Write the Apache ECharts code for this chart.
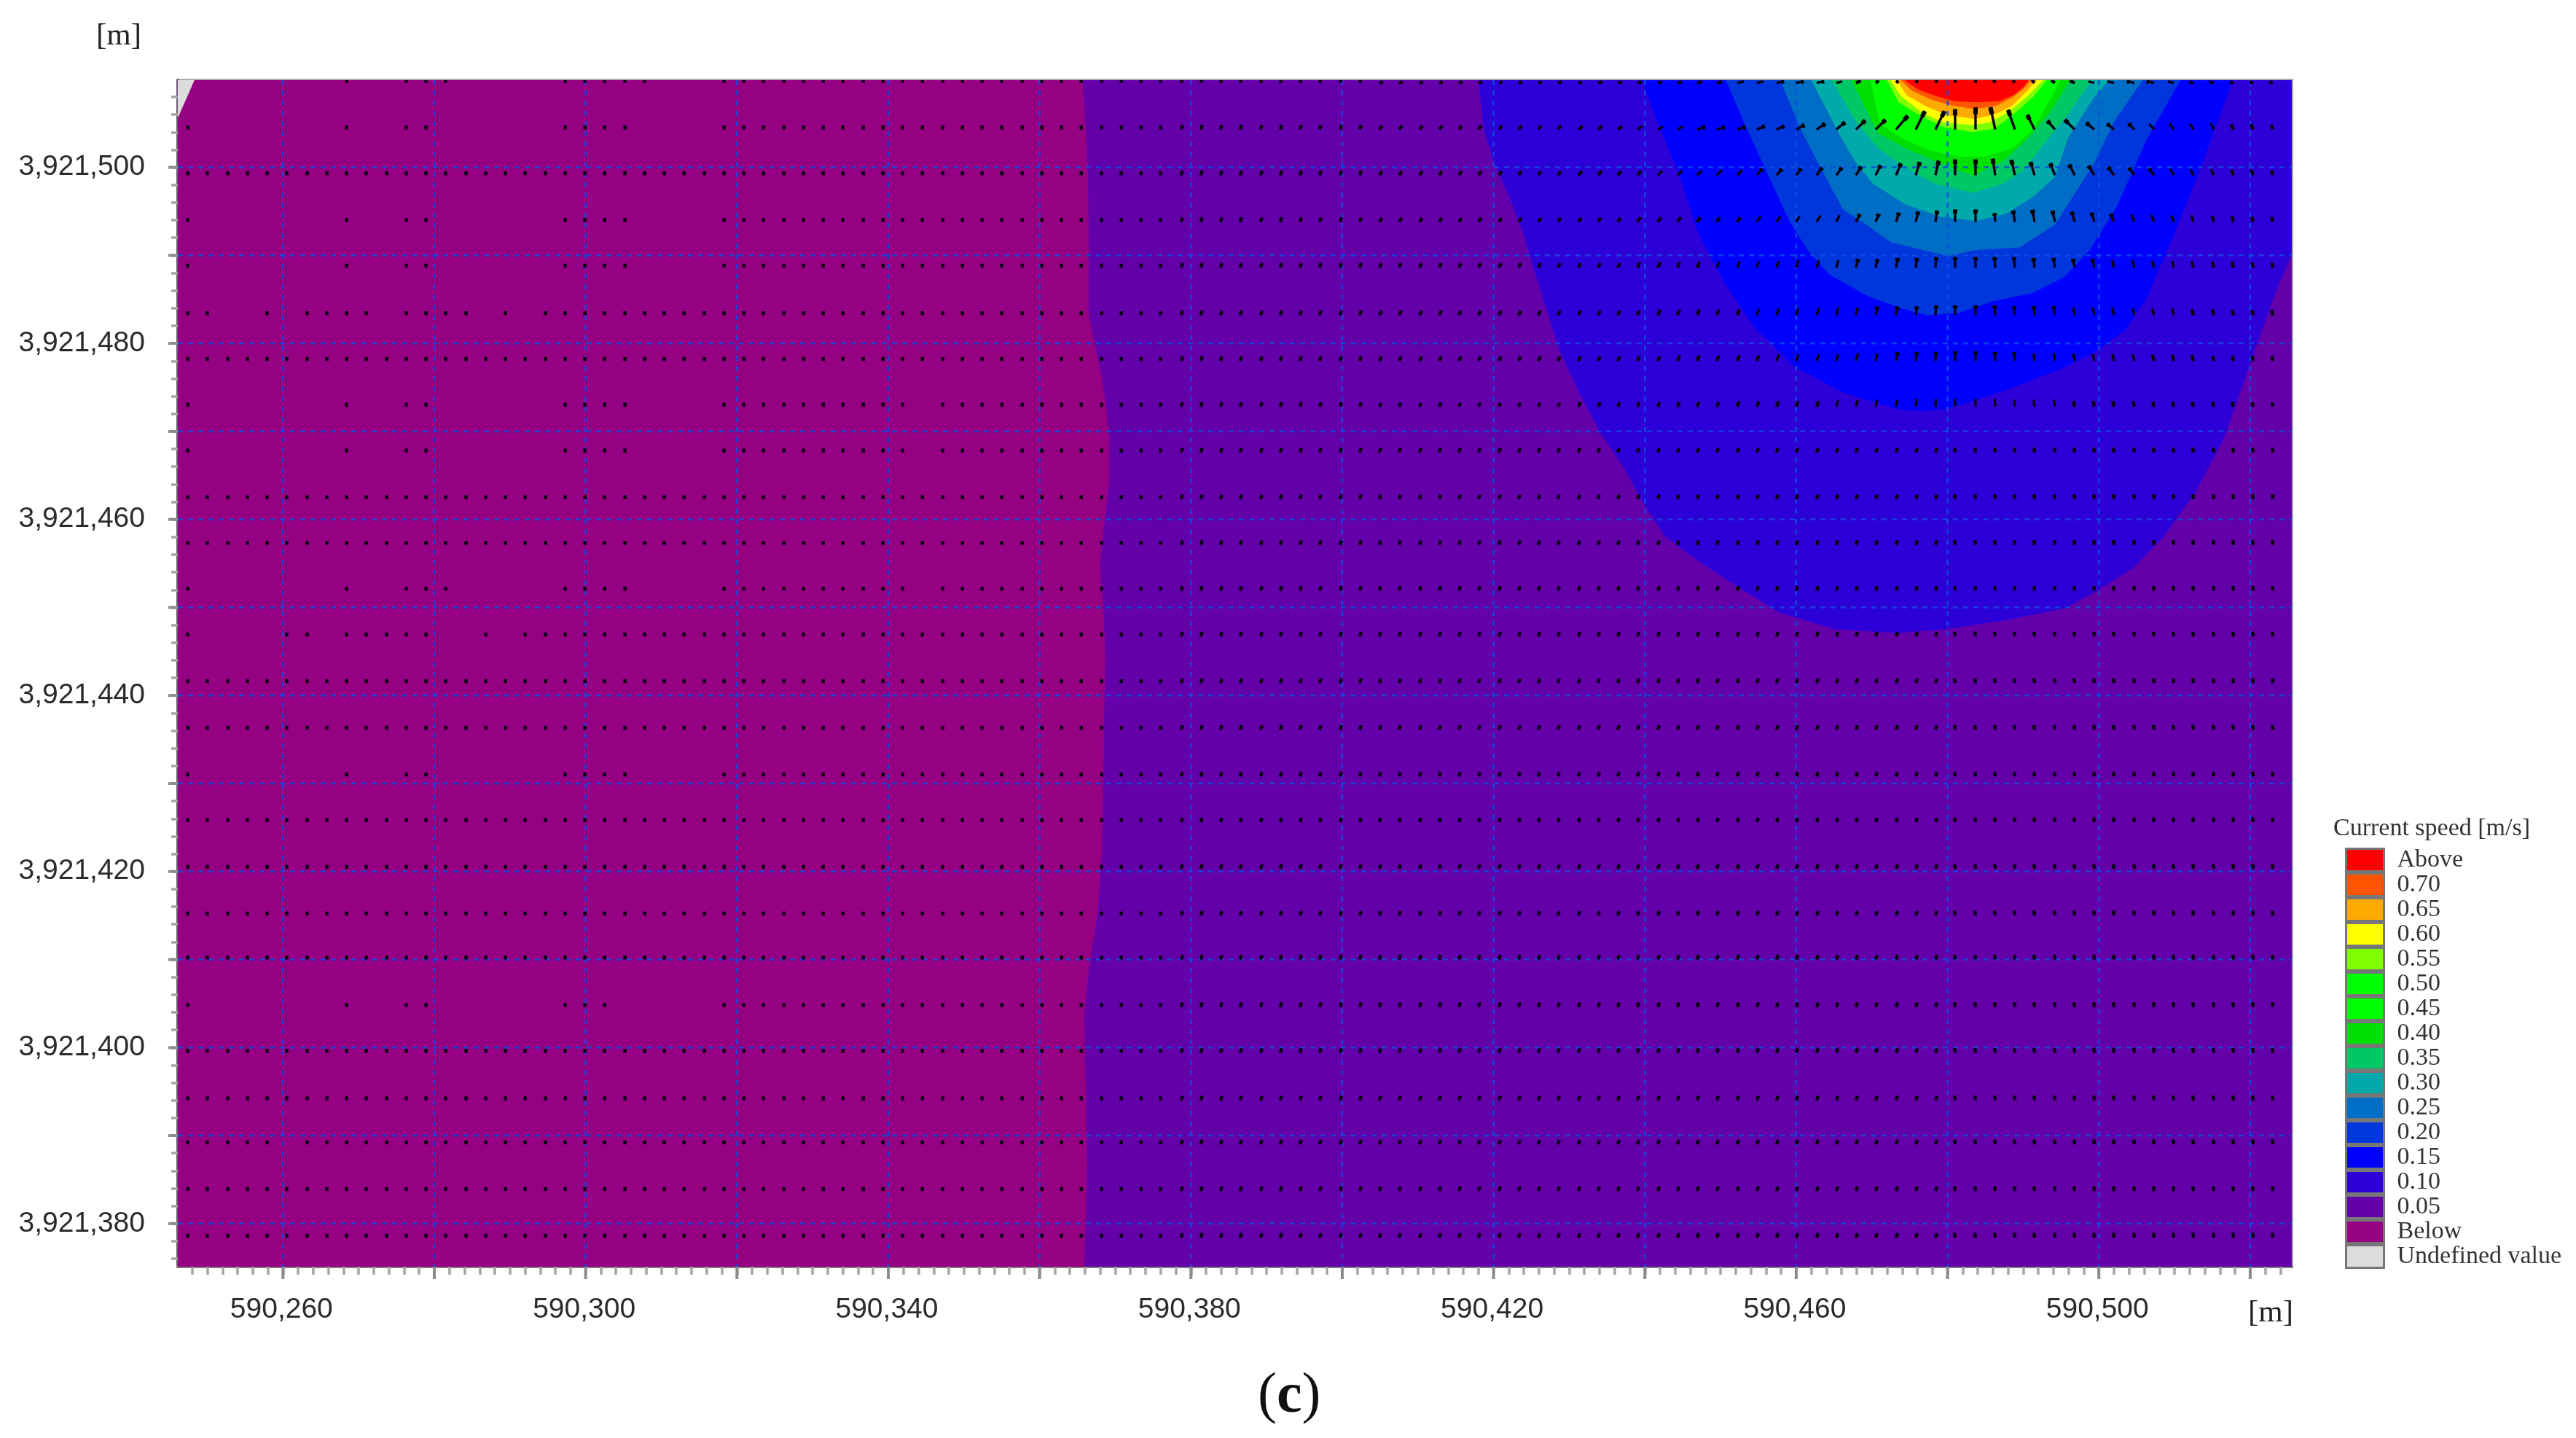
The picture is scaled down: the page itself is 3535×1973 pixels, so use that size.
<!DOCTYPE html>
<html lang="en">
<head>
    <meta charset="UTF-8">
    <title>Current speed map</title>
    <script src="https://cdn.jsdelivr.net/npm/echarts@6/dist/echarts.min.js"></script>
    <style>
        html, body { margin: 0; padding: 0; background: #fff; }
        #main { width: 3535px; height: 1973px; }
    </style>
</head>
<body>
    <div id="main"></div>
    <script>
        // map origin, all positions below are metres from here
        var EAST0 = 590000;
        var NORTH0 = 3921000;
        var eastMin = 246.1, eastMax = 525.5;
        var northMin = 375.1, northMax = 509.9;

        var xLabelValues = [260, 300, 340, 380, 420, 460, 500];
        var yLabelValues = [380, 400, 420, 440, 460, 480, 500];
        var xGridValues = [260, 280, 300, 320, 340, 360, 380, 400, 420, 440, 460, 480, 500, 520];
        var yGridValues = [380, 390, 400, 410, 420, 430, 440, 450, 460, 470, 480, 490, 500];
        var xMinorTicks = [248, 250, 252, 254, 256, 258, 260, 262, 264, 266, 268, 270, 272, 274, 276, 278, 280, 282, 284, 286, 288, 290, 292, 294, 296, 298, 300, 302, 304, 306, 308, 310, 312, 314, 316, 318, 320, 322, 324, 326, 328, 330, 332, 334, 336, 338, 340, 342, 344, 346, 348, 350, 352, 354, 356, 358, 360, 362, 364, 366, 368, 370, 372, 374, 376, 378, 380, 382, 384, 386, 388, 390, 392, 394, 396, 398, 400, 402, 404, 406, 408, 410, 412, 414, 416, 418, 420, 422, 424, 426, 428, 430, 432, 434, 436, 438, 440, 442, 444, 446, 448, 450, 452, 454, 456, 458, 460, 462, 464, 466, 468, 470, 472, 474, 476, 478, 480, 482, 484, 486, 488, 490, 492, 494, 496, 498, 500, 502, 504, 506, 508, 510, 512, 514, 516, 518, 520, 522, 524];
        var yMinorTicks = [376, 378, 380, 382, 384, 386, 388, 390, 392, 394, 396, 398, 400, 402, 404, 406, 408, 410, 412, 414, 416, 418, 420, 422, 424, 426, 428, 430, 432, 434, 436, 438, 440, 442, 444, 446, 448, 450, 452, 454, 456, 458, 460, 462, 464, 466, 468, 470, 472, 474, 476, 478, 480, 482, 484, 486, 488, 490, 492, 494, 496, 498, 500, 502, 504, 506, 508];

        // legend, top to bottom
        var levelNames = ['Above', '0.70', '0.65', '0.60', '0.55', '0.50', '0.45', '0.40', '0.35', '0.30', '0.25', '0.20', '0.15', '0.10', '0.05', 'Below', 'Undefined value'];
        var levelColors = ['#ff0000', '#ff5500', '#ffaa00', '#ffff00', '#80ff00', '#00ff00', '#00ff00', '#00e000', '#00c864', '#00aaaa', '#006ec4', '#0037dc', '#0000ff', '#2d00d7', '#6400aa', '#960082', '#dcdcdc'];

        // contour outlines [east, north]
        var contourBelow = [[246.1, 375.1], [525.5, 375.1], [525.5, 509.9], [246.1, 509.9]];
        var contourUndefined = [[246.1, 509.9], [248.3, 509.9], [246.1, 505.6]];
        var contour005 = [[365.7, 509.9], [366.1, 504.4], [366.4, 498.9], [366.5, 489.6], [366.5, 483.2], [367.3, 479.9], [368.2, 476.1], [368.7, 473.5], [369.2, 469.3], [369.2, 464.3], [368.7, 460.5], [368.2, 457.1], [368.0, 454.5], [368.4, 450.3], [368.7, 444.5], [368.5, 436.2], [368.4, 427.9], [368.2, 421.7], [367.6, 414.7], [366.5, 408.9], [365.9, 403.9], [366.1, 394.8], [366.3, 386.5], [365.9, 375.1], [525.5, 375.1], [525.5, 509.9]];
        var contour010 = [[418.0, 509.9], [418.7, 504.4], [420.0, 500.6], [422.0, 496.8], [423.9, 492.6], [425.2, 488.8], [426.9, 484.1], [428.8, 479.0], [431.3, 474.4], [434.2, 469.7], [437.2, 465.9], [439.9, 461.7], [442.6, 458.1], [446.5, 455.6], [451.4, 452.8], [457.8, 449.4], [465.2, 447.5], [473.4, 447.1], [479.8, 447.5], [488.1, 448.6], [495.5, 449.9], [500.0, 452.0], [504.6, 454.5], [508.7, 458.2], [512.7, 463.0], [516.6, 469.3], [521.0, 480.1], [523.4, 485.9], [525.5, 490.0], [525.5, 509.9]];
        var contour015 = [[439.6, 509.9], [441.6, 505.3], [444.3, 499.7], [447.0, 492.6], [450.4, 487.0], [454.3, 482.0], [459.7, 477.4], [466.2, 474.4], [473.5, 472.5], [476.9, 472.3], [480.1, 472.6], [487.2, 474.5], [494.8, 477.0], [499.4, 479.0], [503.5, 481.5], [506.4, 485.3], [509.9, 492.3], [513.5, 500.0], [517.7, 509.9]];
        var contour020 = [[450.7, 509.9], [453.3, 504.7], [456.3, 499.1], [459.1, 493.9], [461.5, 490.6], [464.4, 487.8], [469.6, 485.3], [473.8, 484.0], [477.2, 483.2], [481.3, 483.4], [486.0, 484.8], [491.2, 485.7], [495.4, 487.5], [498.8, 490.6], [502.4, 495.6], [506.4, 503.3], [510.8, 509.9]];
        var contour025 = [[457.9, 509.9], [460.6, 504.3], [463.2, 500.0], [466.2, 495.2], [469.1, 493.6], [472.5, 491.5], [476.7, 490.6], [480.1, 489.9], [483.7, 490.6], [489.5, 490.9], [494.2, 493.5], [496.5, 496.6], [499.4, 500.5], [502.0, 505.2], [505.8, 509.9]];
        var contour030 = [[462.0, 509.9], [465.6, 503.9], [467.9, 500.5], [470.2, 498.1], [474.4, 495.8], [479.0, 494.4], [483.7, 493.9], [487.7, 494.7], [491.2, 496.6], [494.2, 498.9], [495.9, 503.3], [499.4, 508.0], [501.4, 509.9]];
        var contour035 = [[464.7, 509.9], [467.9, 505.2], [470.8, 502.2], [474.4, 500.0], [478.4, 498.1], [483.4, 497.1], [487.2, 498.1], [490.1, 499.7], [492.5, 502.4], [495.9, 506.0], [499.0, 509.9]];
        var contour040 = [[467.3, 509.9], [470.8, 503.9], [474.4, 502.2], [479.0, 500.5], [483.4, 499.1], [487.2, 500.6], [490.6, 503.3], [493.6, 506.3], [496.2, 509.9]];
        var contour045 = [[469.8, 509.9], [471.1, 504.9], [474.0, 503.3], [477.8, 501.9], [481.7, 501.2], [484.9, 501.2], [488.7, 502.2], [491.3, 504.3], [493.5, 507.6], [494.9, 509.9]];
        var contour050 = [[470.6, 509.9], [471.8, 505.6], [474.6, 504.0], [478.2, 502.8], [483.3, 502.2], [487.6, 503.0], [490.6, 505.2], [492.8, 508.0], [494.0, 509.9]];
        var contour055 = [[472.0, 509.9], [473.5, 507.4], [476.5, 505.8], [479.4, 504.6], [483.3, 504.0], [486.2, 504.4], [488.7, 506.0], [491.3, 508.0], [493.1, 509.9]];
        var contour060 = [[472.5, 509.9], [473.8, 508.1], [476.7, 506.2], [479.4, 505.1], [483.3, 504.8], [485.5, 505.1], [488.1, 506.3], [490.7, 508.2], [492.6, 509.9]];
        var contour065 = [[473.3, 509.9], [474.6, 508.2], [477.2, 506.9], [480.1, 505.9], [483.6, 505.5], [486.2, 506.0], [488.4, 506.9], [490.3, 508.5], [491.8, 509.9]];
        var contour070 = [[473.8, 509.9], [475.3, 508.7], [477.8, 507.7], [480.7, 507.0], [483.6, 506.6], [486.5, 507.0], [488.7, 508.0], [490.3, 509.1], [491.0, 509.9]];
        var contourAbove = [[474.3, 509.9], [476.2, 508.8], [478.5, 508.1], [481.0, 507.5], [483.9, 507.4], [486.8, 507.5], [488.7, 508.2], [490.0, 509.1], [490.7, 509.9]];

        var contourByLevel = {
            'Below': contourBelow, '0.05': contour005, '0.10': contour010, '0.15': contour015, '0.20': contour020,
            '0.25': contour025, '0.30': contour030, '0.35': contour035, '0.40': contour040, '0.45': contour045,
            '0.50': contour050, '0.55': contour055, '0.60': contour060, '0.65': contour065, '0.70': contour070,
            'Above': contourAbove, 'Undefined value': contourUndefined
        };

        // current vectors: mesh rows and columns
        var arrowRowsN = [509.6, 504.3, 499.1, 493.8, 488.6, 483.2, 478.0, 472.8, 467.6, 462.3, 457.1, 451.9, 446.7, 441.4, 436.1, 430.8, 425.6, 420.3, 415.0, 410.0, 404.6, 399.4, 394.0, 389.0, 383.7, 378.4];
        var arrowColsE = [247.4, 250.0, 252.7, 255.3, 257.9, 260.5, 263.2, 265.8, 268.4, 271.0, 273.7, 276.3, 278.9, 281.5, 284.2, 286.8, 289.4, 292.0, 294.7, 297.3, 299.9, 302.5, 305.2, 307.8, 310.4, 313.0, 315.7, 318.3, 320.9, 323.5, 326.2, 328.8, 331.4, 334.0, 336.7, 339.3, 341.9, 344.5, 347.2, 349.8, 352.4, 355.0, 357.7, 360.3, 362.9, 365.5, 368.2, 370.8, 373.4, 376.0, 378.7, 381.3, 383.9, 386.5, 389.2, 391.8, 394.4, 397.0, 399.7, 402.3, 404.9, 407.5, 410.2, 412.8, 415.4, 418.0, 420.7, 423.3, 425.9, 428.5, 431.2, 433.8, 436.4, 439.0, 441.7, 444.3, 446.9, 449.5, 452.2, 454.8, 457.4, 460.0, 462.7, 465.3, 467.9, 470.5, 473.2, 475.8, 478.4, 481.0, 483.7, 486.3, 488.9, 491.5, 494.2, 496.8, 499.4, 502.0, 504.7, 507.3, 509.9, 512.5, 515.2, 517.8, 520.4, 523.0];

        // rows where only some of the left columns (index < 29) carry a vector
        var sparseLeftCols = {
            0: [8, 11, 12, 13, 19, 20, 21, 22, 23, 27, 28],
            1: [0, 8, 11, 12, 19, 20, 21, 22, 27, 28],
            3: [0, 8, 11, 12, 19, 20, 21, 22, 27, 28],
            4: [0, 8, 11, 12, 19, 20, 21, 22, 27, 28],
            5: [0, 1, 4, 6, 7, 8, 9, 11, 12, 13, 14, 16, 18, 19, 20, 21, 22, 23, 24, 25, 26, 27, 28],
            7: [0, 8, 11, 12, 19, 20, 21, 22, 27, 28],
            8: [0, 8, 11, 12, 19, 20, 21, 22, 27, 28],
            11: [0, 8, 11, 12, 13, 19, 20, 21, 22, 27, 28],
            12: [0, 5, 6, 8, 9, 10, 11, 12, 15, 17, 18, 19, 20, 21, 22, 23, 24, 25, 26, 27, 28],
            15: [0, 8, 11, 12, 19, 20, 21, 22, 27, 28],
            20: [0, 8, 11, 12, 19, 20, 21, 27, 28]
        };
        var missingVectors = [[7, 37], [8, 37], [11, 37], [23, 5]];

        // near-source vectors, columns 60..105: tilt in degrees from north, length in tenths of a metre
        var firstTableCol = 60;
        var tiltRow0 = [80, 80, 80, 80, 80, 80, 80, 80, 80, 80, 80, 80, 80, 80, 80, 80, 80, 80, 80, 80, 80, 80, 80, 80, 70, 60, 50, 40, 30, 0, 0, -30, -40, -50, -60, -70, -80, -80, -80, -80, -80, -80, -80, -80, -80, -80];
        var lenRow0 = [5, 5, 5, 5, 5, 5, 5, 5, 5, 5, 5, 6, 6, 6, 6, 6, 7, 7, 9, 9, 10, 10, 10, 8, 7, 5, 4, 4, 4, 4, 4, 4, 4, 5, 6, 7, 8, 9, 10, 10, 8, 6, 6, 5, 5, 5];
        var tiltRow1 = [45, 45, 45, 45, 45, 45, 45, 45, 45, 45, 55, 55, 60, 60, 65, 65, 75, 75, 75, 70, 70, 65, 60, 55, 50, 50, 45, 30, 30, 0, 0, -14, -22, -30, -45, -50, -55, -55, -50, -45, -40, -35, -30, -30, -25, -25];
        var lenRow1 = [6, 6, 6, 6, 6, 6, 6, 6, 6, 6, 7, 7, 7, 8, 8, 8, 11, 11, 11, 11, 11, 12, 13, 14, 16, 17, 22, 24, 24, 23, 25, 26, 24, 19, 14, 17, 13, 11, 10, 9, 9, 8, 8, 7, 7, 6];
        var tiltRow2 = [40, 40, 40, 40, 40, 40, 40, 40, 40, 40, 45, 45, 45, 45, 50, 50, 50, 50, 50, 45, 45, 40, 40, 40, 35, 30, 25, 20, 15, 0, 0, -10, -15, -20, -25, -30, -35, -40, -40, -40, -35, -30, -30, -25, -25, -20];
        var lenRow2 = [6, 6, 6, 6, 6, 6, 6, 6, 6, 6, 7, 7, 7, 7, 8, 8, 8, 9, 9, 10, 10, 10, 11, 11, 12, 13, 15, 16, 17, 18, 18, 19, 18, 16, 15, 14, 13, 12, 11, 10, 9, 8, 8, 7, 7, 6];
        var tiltRow3 = [40, 40, 40, 40, 40, 40, 40, 40, 40, 40, 40, 40, 40, 40, 40, 40, 40, 40, 40, 40, 40, 35, 35, 30, 30, 25, 20, 15, 10, 0, 0, -5, -10, -12, -15, -18, -20, -25, -25, -25, -25, -20, -20, -20, -20, -20];
        var lenRow3 = [6, 6, 6, 6, 6, 6, 6, 6, 6, 6, 6, 6, 6, 7, 7, 7, 7, 7, 7, 8, 8, 8, 9, 9, 10, 10, 11, 12, 13, 14, 14, 10, 13, 14, 13, 12, 11, 10, 9, 9, 8, 8, 7, 7, 6, 6];
        var tiltRows47 = [30, 30, 30, 30, 30, 30, 30, 30, 30, 30, 30, 30, 30, 28, 28, 26, 25, 25, 24, 22, 22, 20, 20, 18, 16, 14, 12, 8, 5, 0, 0, -4, -6, -8, -10, -12, -14, -15, -16, -18, -18, -18, -18, -16, -15, -15];
        var lenRow4 = [6, 6, 6, 6, 6, 6, 6, 6, 6, 6, 6, 6, 6, 7, 7, 7, 7, 8, 8, 8, 8, 9, 9, 9, 10, 10, 11, 11, 12, 12, 12, 12, 12, 11, 11, 10, 10, 9, 9, 8, 8, 8, 7, 7, 6, 6];
        var lenRow5 = [6, 6, 6, 6, 6, 6, 6, 6, 6, 6, 6, 6, 6, 6, 7, 7, 7, 7, 7, 8, 8, 8, 9, 9, 9, 10, 10, 10, 11, 11, 11, 11, 10, 10, 10, 9, 9, 9, 8, 8, 8, 7, 7, 6, 6, 6];
        var lenRow6 = [6, 6, 6, 6, 6, 6, 6, 6, 6, 6, 6, 6, 6, 6, 6, 7, 7, 7, 7, 7, 8, 8, 8, 8, 9, 9, 10, 10, 10, 11, 11, 10, 10, 9, 9, 9, 8, 8, 8, 7, 7, 7, 6, 6, 6, 6];
        var lenRow7 = [5, 5, 5, 5, 5, 5, 5, 5, 5, 5, 6, 6, 6, 6, 6, 6, 6, 6, 7, 7, 7, 7, 7, 8, 8, 8, 8, 9, 9, 9, 9, 9, 8, 8, 8, 7, 7, 7, 7, 6, 6, 6, 6, 6, 5, 5];
        var rowTables = {
            0: [tiltRow0, lenRow0], 1: [tiltRow1, lenRow1], 2: [tiltRow2, lenRow2], 3: [tiltRow3, lenRow3],
            4: [tiltRows47, lenRow4], 5: [tiltRows47, lenRow5], 6: [tiltRows47, lenRow6], 7: [tiltRows47, lenRow7]
        };
        // everything further out is a small tick: [first column, tilt, length]
        var farFieldZones = [[0, 0, 4.5], [50, 22, 5.5], [89, -8, 5.5]];

        var arrowData = [];
        arrowRowsN.forEach(function (north, r) {
            arrowColsE.forEach(function (east, c) {
                if (c < 29 && sparseLeftCols[r] && sparseLeftCols[r].indexOf(c) < 0) {
                    return;
                }
                if (missingVectors.some(function (m) { return m[0] === r && m[1] === c; })) {
                    return;
                }
                var tilt, len;
                if (rowTables[r] && c >= firstTableCol) {
                    tilt = rowTables[r][0][c - firstTableCol];
                    len = rowTables[r][1][c - firstTableCol];
                } else {
                    farFieldZones.forEach(function (z) {
                        if (c >= z[0]) {
                            tilt = z[1];
                            len = z[2];
                        }
                    });
                }
                arrowData.push([EAST0 + east, NORTH0 + north, tilt, len]);
            });
        });

        function renderContour(params, api) {
            if (params.dataIndex !== 0) {
                return;
            }
            var pts = contourByLevel[params.seriesName].map(function (p) {
                return api.coord([EAST0 + p[0], NORTH0 + p[1]]);
            });
            return {
                type: 'polygon',
                shape: { points: pts },
                style: { fill: api.visual('color') }
            };
        }

        function renderArrow(params, api) {
            var x = api.value(0), y = api.value(1);
            var rad = api.value(2) * Math.PI / 180;
            var len = api.value(3) / 10;
            var a = api.coord([x, y]);
            var b = api.coord([x + len * Math.sin(rad), y + len * Math.cos(rad)]);
            var style = { stroke: '#0c0014', lineWidth: len < 0.8 ? 4.5 : 3.4, lineCap: 'butt' };
            var kids = [{ type: 'line', shape: { x1: a[0], y1: a[1], x2: b[0], y2: b[1] }, style: style }];
            if (len >= 1.0) {
                // fat head end
                kids.push({
                    type: 'line',
                    shape: { x1: a[0] + (b[0] - a[0]) * 0.7, y1: a[1] + (b[1] - a[1]) * 0.7, x2: b[0], y2: b[1] },
                    style: { stroke: '#000', lineWidth: 6, lineCap: 'butt' }
                });
            }
            return { type: 'group', children: kids };
        }

        var gridLineStyle = { stroke: '#0d4ce0', lineWidth: 2.6, lineDash: [7, 7], opacity: 0.85 };
        var majorTickStyle = { stroke: '#8c8c8c', lineWidth: 4 };

        function renderGridX(params, api) {
            var p = api.coord([EAST0 + api.value(0), NORTH0 + northMin]);
            var top = params.coordSys.y;
            return {
                type: 'group',
                children: [
                    { type: 'line', shape: { x1: p[0], y1: top, x2: p[0], y2: p[1] }, style: gridLineStyle },
                    { type: 'line', shape: { x1: p[0], y1: p[1], x2: p[0], y2: p[1] + 17 }, style: majorTickStyle }
                ]
            };
        }

        function renderGridY(params, api) {
            var p = api.coord([EAST0 + eastMin, NORTH0 + api.value(0)]);
            var right = params.coordSys.x + params.coordSys.width;
            return {
                type: 'group',
                children: [
                    { type: 'line', shape: { x1: p[0], y1: p[1], x2: right, y2: p[1] }, style: gridLineStyle },
                    { type: 'line', shape: { x1: p[0] - 13, y1: p[1], x2: p[0], y2: p[1] }, style: majorTickStyle }
                ]
            };
        }

        var paintOrder = ['Below', '0.05', '0.10', '0.15', '0.20', '0.25', '0.30', '0.35', '0.40', '0.45', '0.50', '0.55', '0.60', '0.65', '0.70', 'Above', 'Undefined value'];
        var series = paintOrder.map(function (name) {
            return {
                name: name,
                type: 'custom',
                coordinateSystem: 'cartesian2d',
                renderItem: renderContour,
                clip: true,
                silent: true,
                z: 1,
                itemStyle: { color: levelColors[levelNames.indexOf(name)] },
                data: [[EAST0 + contourByLevel[name][0][0], NORTH0 + contourByLevel[name][0][1]]]
            };
        });
        series.push({
            type: 'custom', renderItem: renderGridX, silent: true, z: 2,
            data: xGridValues.map(function (v) { return [v, 0]; }),
            encode: { x: -1, y: -1 }
        });
        series.push({
            type: 'custom', renderItem: renderGridY, silent: true, z: 2,
            data: yGridValues.map(function (v) { return [v, 0]; }),
            encode: { x: -1, y: -1 }
        });
        series.push({
            type: 'custom', renderItem: renderArrow, silent: true, clip: true, z: 3, progressive: 0,
            data: arrowData,
            encode: { x: 0, y: 1 }
        });

        function fullValues(list, origin) {
            return list.map(function (v) { return origin + v; });
        }

        function withCommas(v) {
            return String(v).replace(/\B(?=(\d{3})+$)/g, ',');
        }

        var myChart = echarts.init(document.getElementById('main'));
        myChart.setOption({
            animation: false,
            backgroundColor: '#fff',
            grid: { left: 244, right: 390, top: 110, bottom: 235, show: true, borderColor: '#a8a8a8', borderWidth: 4, backgroundColor: 'transparent' },
            xAxis: {
                type: 'value',
                min: EAST0 + eastMin,
                max: EAST0 + eastMax,
                name: '[m]',
                nameLocation: 'end',
                nameGap: 2,
                nameTextStyle: { fontFamily: 'Liberation Serif', fontSize: 43, color: '#222', align: 'right', verticalAlign: 'top', padding: [42, 0, 0, 0] },
                splitLine: { show: false },
                axisLine: { show: true, lineStyle: { color: '#7a7a7a', width: 4 } },
                axisTick: { show: true, customValues: fullValues(xMinorTicks, EAST0), length: 11, lineStyle: { color: '#a4a4a4', width: 3.5 } },
                axisLabel: {
                    customValues: fullValues(xLabelValues, EAST0),
                    formatter: withCommas,
                    margin: 40,
                    padding: [0, 4, 0, 0],
                    fontFamily: 'Liberation Sans',
                    fontSize: 39,
                    color: '#2b2b2b'
                }
            },
            yAxis: {
                type: 'value',
                min: NORTH0 + northMin,
                max: NORTH0 + northMax,
                name: '[m]',
                nameLocation: 'end',
                nameGap: 60,
                nameTextStyle: { fontFamily: 'Liberation Serif', fontSize: 43, color: '#222', align: 'right', verticalAlign: 'middle', padding: [0, 50, 0, 0] },
                splitLine: { show: false },
                axisLine: { show: true, lineStyle: { color: '#6e5a78', width: 4 } },
                axisTick: { show: true, customValues: fullValues(yMinorTicks, NORTH0), length: 9, lineStyle: { color: '#a4a4a4', width: 3.5 } },
                axisLabel: {
                    customValues: fullValues(yLabelValues, NORTH0),
                    formatter: withCommas,
                    margin: 45,
                    padding: [0, 0, 4, 0],
                    fontFamily: 'Liberation Sans',
                    fontSize: 39,
                    color: '#2b2b2b'
                }
            },
            legend: {
                data: levelNames,
                orient: 'vertical',
                left: 3218,
                top: 1163,
                padding: 0,
                itemWidth: 52,
                itemHeight: 31,
                itemGap: 0,
                icon: 'rect',
                selectedMode: false,
                itemStyle: { borderColor: '#777', borderWidth: 3 },
                textStyle: { fontFamily: 'Liberation Serif', fontSize: 34, lineHeight: 23, color: '#333', padding: [11, 0, 0, 13] }
            },
            graphic: [
                {
                    type: 'text', left: 3202, top: 1120,
                    style: { text: 'Current speed [m/s]', fontFamily: 'Liberation Serif', fontSize: 34, fill: '#333' }
                },
                {
                    type: 'text', left: 1726, top: 1878,
                    style: {
                        text: '{a|(}{b|c}{a|)}',
                        rich: {
                            a: { fontFamily: 'Liberation Serif', fontSize: 78, fill: '#111' },
                            b: { fontFamily: 'Liberation Serif', fontSize: 78, fontWeight: 'bold', fill: '#111' }
                        }
                    }
                }
            ],
            series: series
        });
    </script>
</body>
</html>
